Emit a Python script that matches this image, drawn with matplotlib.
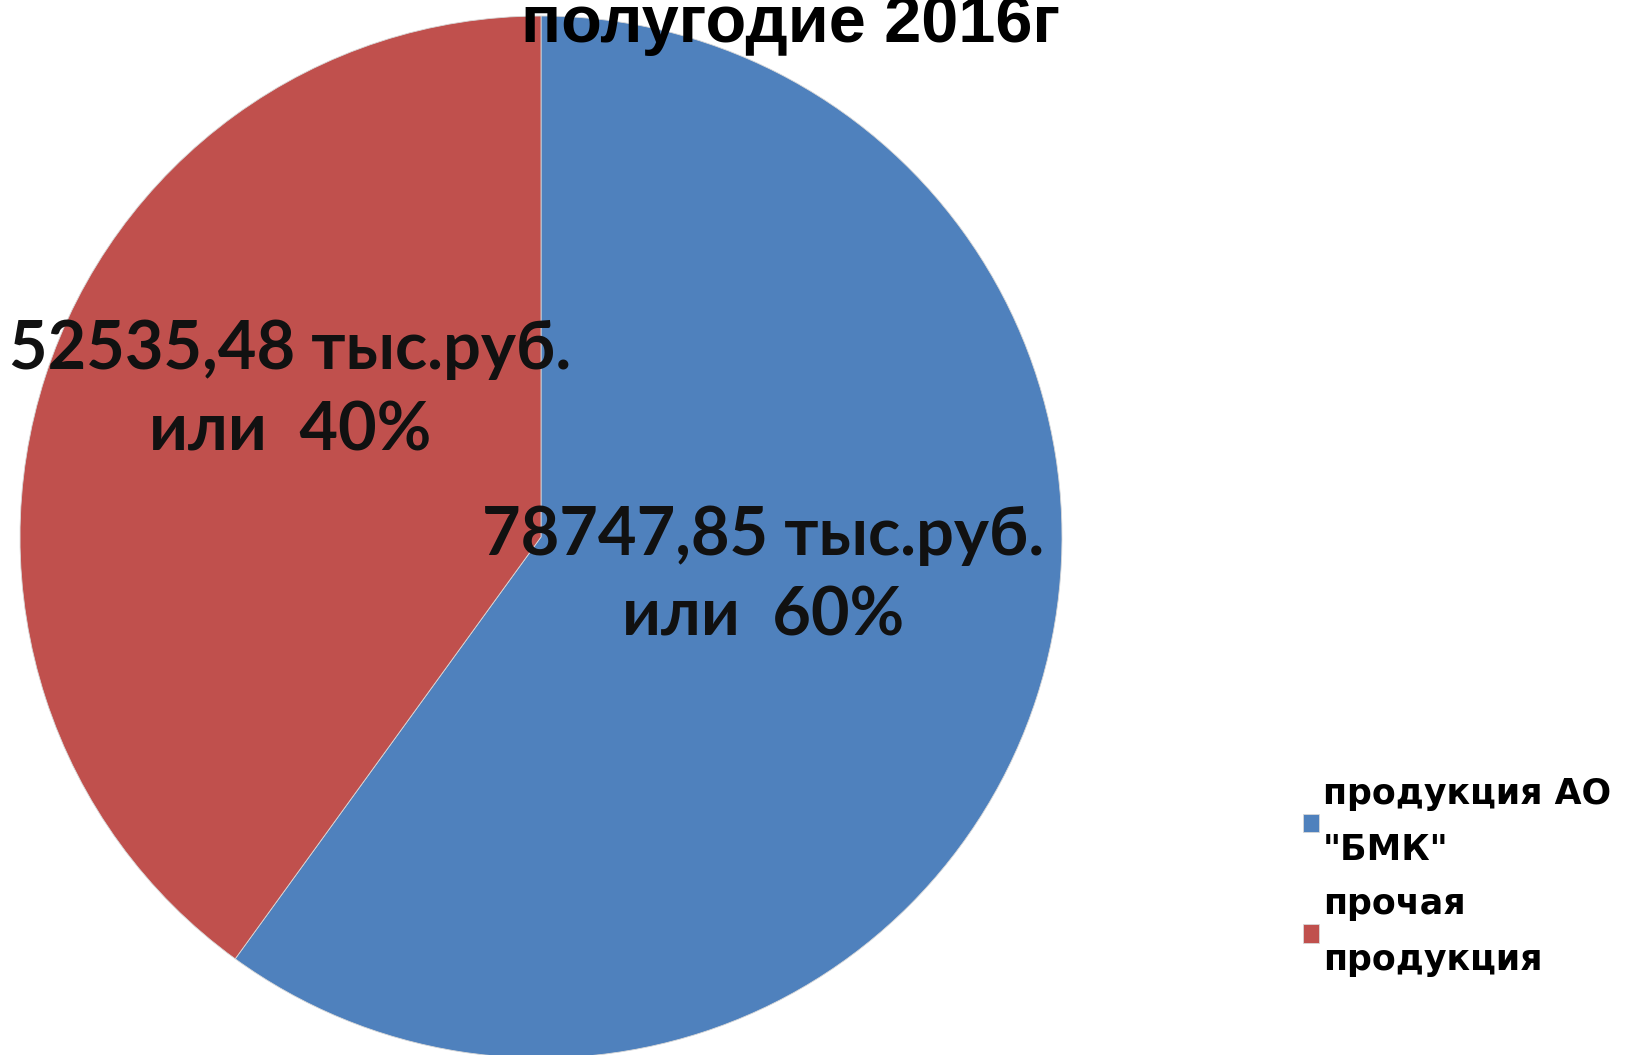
import matplotlib
matplotlib.use('Agg')
import matplotlib.pyplot as plt

# Revenue split, thousand rubles
categories = ['продукция АО\n"БМК"', 'прочая\nпродукция']
values = [78747.85, 52535.48]
percents = [60, 40]
colors = ['#4F81BD', '#C0504D']
title = 'полугодие 2016г'

W, H = 1639, 1055
fig = plt.figure(figsize=(W / 100, H / 100), dpi=100)
ax = fig.add_axes([0, 0, 1, 1])

wedges, _ = ax.pie(values, colors=colors, startangle=90, counterclock=False,
                   center=(541, H - 537), radius=521,
                   wedgeprops=dict(edgecolor='#d8d8d8', linewidth=0.6))
ax.set_xlim(0, W)
ax.set_ylim(0, H)
ax.set_aspect('equal')
ax.axis('off')

def fmt(v, p):
    return f"{v:.2f}".replace('.', ',') + f" тыс.руб.\nили  {p}%"

label_font = dict(family=['Lato', 'DejaVu Sans'], weight='bold', fontsize=48,
                  color='#111111', ha='center', va='center', linespacing=1.38)
ax.text(763, H - 576, fmt(values[0], percents[0]), **label_font)
ax.text(290, H - 391, fmt(values[1], percents[1]), **label_font)

fig.text(791 / W, 1 - 42 / H, title, ha='center', va='baseline',
         fontsize=48, weight='bold',
         family=['Liberation Sans Narrow', 'Liberation Sans', 'DejaVu Sans'])

leg = ax.legend(wedges, categories, loc='center left',
                bbox_to_anchor=(1272 / W, 1 - 877 / H),
                bbox_transform=fig.transFigure, frameon=False,
                prop=dict(family='DejaVu Sans', weight='bold', size=25),
                handlelength=0.45, handleheight=0.45, handletextpad=0.12,
                labelspacing=0.6)
for t in leg.get_texts():
    t.set_linespacing(1.8)

fig.savefig('out.png', dpi=100)
